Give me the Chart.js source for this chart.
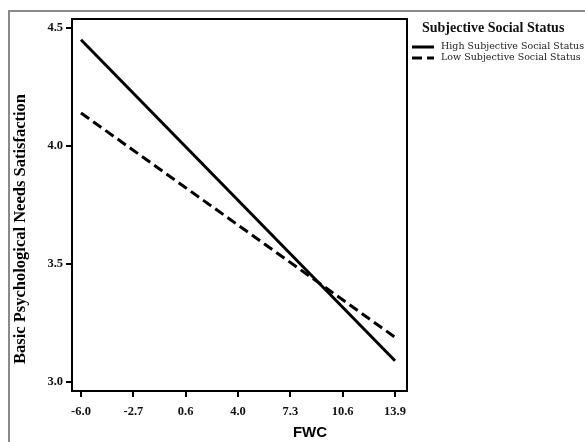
<!DOCTYPE html>
<html>
<head>
<meta charset="utf-8">
<script src="https://cdn.jsdelivr.net/npm/chart.js@4/dist/chart.umd.min.js"></script>
<style>
  html, body { margin: 0; padding: 0; background: #fff; }
  #wrap { width: 585px; height: 442px; }
</style>
</head>
<body>
<div id="wrap"><canvas id="fwcChart" width="585" height="442"></canvas></div>
<script>
// data
const fwcValues = [-6.0, 13.9];
const highSSS = [4.45, 3.09];
const lowSSS = [4.14, 3.19];
const seriesNames = ['High Subjective Social Status', 'Low Subjective Social Status'];
const xTickValues = [-6.0, -2.68, 0.63, 3.95, 7.27, 10.58, 13.9];
const xTickLabels = ['-6.0', '-2.7', '0.6', '4.0', '7.3', '10.6', '13.9'];
const yTickValues = [3.0, 3.5, 4.0, 4.5];

const serif = '"Liberation Serif", "Times New Roman", serif';

// frame, box, titles and legend drawn by hand
const decorations = {
  id: 'decorations',
  beforeDraw(chart) {
    const c = chart.ctx;
    c.save();
    c.strokeStyle = '#8a8a8a';
    c.lineWidth = 2;
    c.beginPath();
    c.moveTo(9, 442);
    c.lineTo(9, 11);
    c.lineTo(585, 11);
    c.stroke();
    c.restore();
  },
  afterDraw(chart) {
    const c = chart.ctx;
    const a = chart.chartArea;
    c.save();
    c.strokeStyle = '#000';
    c.lineWidth = 2;
    c.strokeRect(a.left, a.top, a.right - a.left, a.bottom - a.top);

    // y title
    c.fillStyle = '#000';
    c.font = 'bold 16.5px ' + serif;
    c.textAlign = 'center';
    c.textBaseline = 'middle';
    c.translate(21, 229);
    c.rotate(-Math.PI / 2);
    c.fillText('Basic Psychological Needs Satisfaction', 0, 0);
    c.restore();

    c.save();
    c.fillStyle = '#000';
    c.font = 'bold 15px "Liberation Sans", Arial, sans-serif';
    c.textAlign = 'center';
    c.textBaseline = 'middle';
    c.fillText('FWC', 310, 433);

    // legend
    c.textAlign = 'left';
    c.font = 'bold 14px ' + serif;
    c.fillStyle = '#111';
    c.fillText('Subjective Social Status', 422, 28);
    c.font = '9.5px "DejaVu Serif", serif';
    chart.data.datasets.forEach((ds, i) => {
      const y = 47 + i * 11;
      c.strokeStyle = '#000';
      c.lineWidth = 3;
      c.setLineDash(ds.borderDash || []);
      c.beginPath();
      c.moveTo(412, y);
      c.lineTo(434, y);
      c.stroke();
      c.setLineDash([]);
      c.fillStyle = '#222';
      c.fillText(ds.label, 441, y);
    });
    c.restore();
  }
};

const ctx = document.getElementById('fwcChart').getContext('2d');

new Chart(ctx, {
  type: 'scatter',
  data: {
    datasets: [{
      label: seriesNames[0],
      data: fwcValues.map((x, i) => ({ x: x, y: highSSS[i] })),
      showLine: true,
      borderColor: '#000',
      borderWidth: 3,
      pointRadius: 0
    }, {
      label: seriesNames[1],
      data: fwcValues.map((x, i) => ({ x: x, y: lowSSS[i] })),
      showLine: true,
      borderColor: '#000',
      borderWidth: 3,
      borderDash: [10, 5],
      pointRadius: 0
    }]
  },
  options: {
    responsive: false,
    animation: false,
    layout: { padding: { left: 0, top: 19, right: 178, bottom: 0 } },
    plugins: {
      legend: { display: false },
      tooltip: { enabled: false }
    },
    scales: {
      x: {
        type: 'linear',
        min: -6.57,
        max: 14.66,
        afterBuildTicks: axis => { axis.ticks = xTickValues.map(v => ({ value: v })); },
        afterFit: axis => { axis.height = 51; },
        ticks: {
          autoSkip: false,
          maxRotation: 0,
          padding: 7,
          color: '#111',
          font: { family: serif, size: 12.5, weight: 'bold' },
          callback: (value, index) => xTickLabels[index]
        },
        grid: { drawOnChartArea: false, color: '#000', lineWidth: 2, tickLength: 6 },
        border: { color: '#000', width: 2 }
      },
      y: {
        min: 2.962,
        max: 4.538,
        afterBuildTicks: axis => { axis.ticks = yTickValues.map(v => ({ value: v })); },
        afterFit: axis => { axis.width = 72; },
        ticks: {
          autoSkip: false,
          padding: 3,
          color: '#111',
          font: { family: serif, size: 12.5, weight: 'bold' },
          callback: value => value.toFixed(1)
        },
        grid: { drawOnChartArea: false, color: '#000', lineWidth: 2, tickLength: 6 },
        border: { color: '#000', width: 2 }
      }
    }
  },
  plugins: [decorations]
});
</script>
</body>
</html>
